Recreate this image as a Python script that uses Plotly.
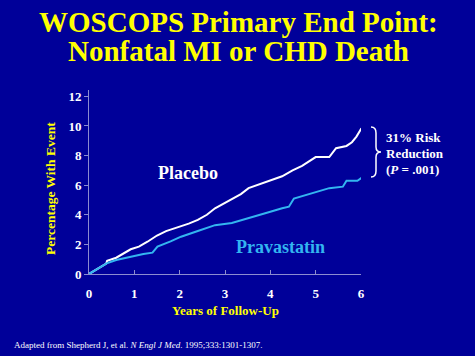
import plotly.graph_objects as go

years_placebo = [0, 0.2, 0.38, 0.40, 0.6, 0.92, 1.1, 1.29, 1.5, 1.7, 2.03, 2.2, 2.4, 2.6, 2.78, 3.0, 3.15, 3.35, 3.52, 3.7, 3.89, 4.1, 4.26, 4.49, 4.7, 5.0, 5.15, 5.3, 5.45, 5.68, 5.8, 5.9, 6.01]
pct_placebo = [0, 0.4, 0.7, 0.9, 1.1, 1.67, 1.85, 2.18, 2.6, 2.9, 3.2, 3.4, 3.65, 4.0, 4.44, 4.8, 5.1, 5.4, 5.8, 6.0, 6.17, 6.4, 6.6, 7.0, 7.3, 7.9, 7.9, 7.9, 8.5, 8.65, 8.9, 9.28, 9.84]

years_prava = [0, 0.2, 0.39, 0.6, 0.92, 1.2, 1.4, 1.51, 1.8, 2.03, 2.4, 2.78, 3.15, 3.52, 3.59, 4.0, 4.26, 4.41, 4.52, 4.8, 5.0, 5.3, 5.6, 5.68, 5.92, 6.05]
pct_prava = [0, 0.4, 0.72, 0.95, 1.17, 1.35, 1.44, 1.85, 2.2, 2.52, 2.9, 3.3, 3.45, 3.76, 3.87, 4.2, 4.44, 4.55, 5.1, 5.35, 5.5, 5.8, 5.9, 6.3, 6.3, 6.57]

x_ticks = [0, 1, 2, 3, 4, 5, 6]
y_ticks = [0, 2, 4, 6, 8, 10, 12]

BG = "#000099"
YEL = "#ffff00"
BLUE = "#33b5f0"
AXC = "#8c8cd0"
FONT = "'Liberation Serif', 'Times New Roman', 'DejaVu Serif', serif"

W, H = 475, 356
L, R, T, B = 89, 114, 90, 82
PW, PH = W - L - R, H - T - B


def px(xp):
    return (xp - L) / PW


def py(yp):
    return (H - B - yp) / PH


fig = go.Figure()
fig.add_trace(go.Scatter(x=years_placebo, y=pct_placebo, mode="lines",
                         line=dict(color="white", width=2), name="Placebo"))
fig.add_trace(go.Scatter(x=years_prava, y=pct_prava, mode="lines",
                         line=dict(color=BLUE, width=2), name="Pravastatin"))

fig.update_layout(
    width=W, height=H,
    paper_bgcolor=BG, plot_bgcolor=BG,
    margin=dict(l=L, r=R, t=T, b=B, autoexpand=False),
    showlegend=False,
    font=dict(family=FONT, color="white"),
)
fig.update_xaxes(range=[0, 6.0], tickvals=x_ticks, ticktext=[f"<b>{v}</b>" for v in x_ticks],
                 showgrid=False, zeroline=False, showline=True, linecolor=AXC, linewidth=1,
                 ticks="inside", ticklen=4, tickcolor=AXC, automargin=False, ticklabelstandoff=7,
                 tickfont=dict(size=13, color="white", family=FONT))
fig.update_yaxes(range=[0, 12.43], tickvals=y_ticks, ticktext=[f"<b>{v}</b>" for v in y_ticks],
                 showgrid=False, zeroline=False, showline=True, linecolor=AXC, linewidth=1,
                 ticks="outside", ticklen=4, tickcolor=AXC, automargin=False,
                 tickfont=dict(size=13, color="white", family=FONT))

# axis titles
fig.add_annotation(xref="paper", yref="paper", x=px(225), y=py(310), xanchor="center", yanchor="middle",
                   text="<b>Years of Follow-Up</b>", showarrow=False,
                   font=dict(size=13, color=YEL, family=FONT))
fig.add_annotation(xref="paper", yref="paper", x=px(50), y=py(189), xanchor="center", yanchor="middle",
                   text="<b>Percentage With Event</b>", showarrow=False, textangle=-90,
                   font=dict(size=13.5, color=YEL, family=FONT))

# title lines
fig.add_annotation(xref="paper", yref="paper", x=px(238), y=py(22), xanchor="center", yanchor="middle",
                   text="<b>WOSCOPS Primary End Point:</b>", showarrow=False,
                   font=dict(size=29, color=YEL, family=FONT))
fig.add_annotation(xref="paper", yref="paper", x=px(238), y=py(51), xanchor="center", yanchor="middle",
                   text="<b>Nonfatal MI or CHD Death</b>", showarrow=False,
                   font=dict(size=29, color=YEL, family=FONT))

fig.add_annotation(x=2.19, y=6.8, text="<b>Placebo</b>", showarrow=False,
                   font=dict(size=18, color="white", family=FONT))
fig.add_annotation(x=4.22, y=1.82, text="<b>Pravastatin</b>", showarrow=False,
                   font=dict(size=18, color=BLUE, family=FONT))

# curly bracket
pts_path = (f"M {px(371)},{py(127)} Q {px(376)},{py(127)} {px(376)},{py(133)} "
            f"L {px(376)},{py(147)} Q {px(376)},{py(152)} {px(381)},{py(152)} "
            f"Q {px(376)},{py(152)} {px(376)},{py(157)} "
            f"L {px(376)},{py(171)} Q {px(376)},{py(177)} {px(371)},{py(177)}")
fig.add_shape(type="path", xref="paper", yref="paper", path=pts_path,
              line=dict(color="white", width=1.5))

fig.add_annotation(xref="paper", yref="paper", x=px(384), y=py(137), xanchor="left", yanchor="middle",
                   showarrow=False, text="<b>31% Risk</b>",
                   font=dict(size=13, color="white", family=FONT))
fig.add_annotation(xref="paper", yref="paper", x=px(384), y=py(153), xanchor="left", yanchor="middle",
                   showarrow=False, text="<b>Reduction</b>",
                   font=dict(size=13, color="white", family=FONT))
fig.add_annotation(xref="paper", yref="paper", x=px(384), y=py(169), xanchor="left", yanchor="middle",
                   showarrow=False, text="<b>(<i>P</i> = .001)</b>",
                   font=dict(size=13, color="white", family=FONT))

fig.add_annotation(xref="paper", yref="paper", x=px(12), y=py(345), xanchor="left", yanchor="middle",
                   align="left", showarrow=False,
                   text="Adapted from Shepherd J, et al. <i>N Engl J Med</i>. 1995;333:1301-1307.",
                   font=dict(size=9, color="white", family=FONT))

fig.write_html("out.html", config={"displayModeBar": False},
               post_script="document.body.style.margin='0px';document.body.style.background='#000099';")
